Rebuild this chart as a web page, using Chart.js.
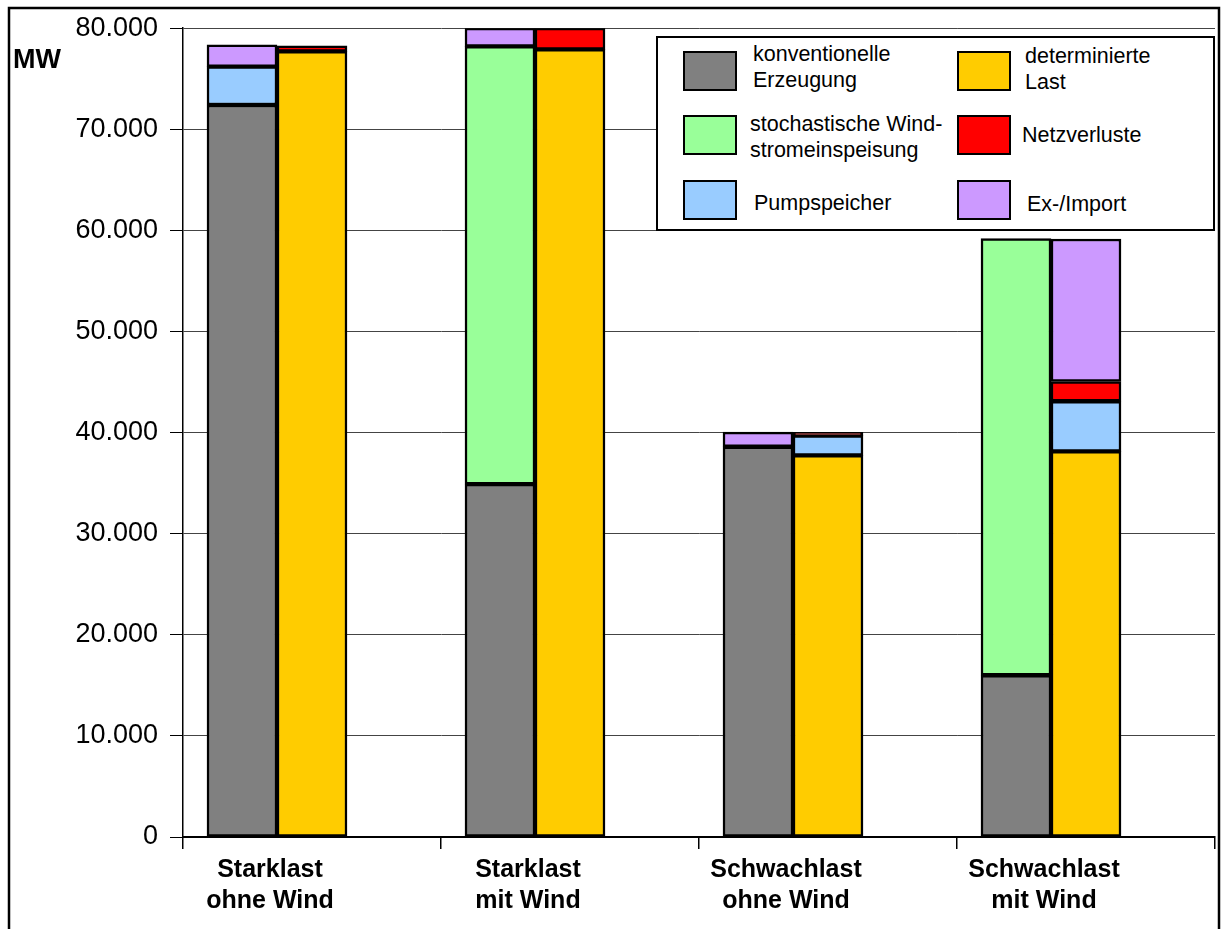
<!DOCTYPE html>
<html>
<head>
<meta charset="utf-8">
<script src="https://cdn.jsdelivr.net/npm/chart.js@4"></script>
<style>
  html, body { margin: 0; padding: 0; background: #fff; }
  #wrap { position: relative; width: 1228px; height: 929px; overflow: hidden; }
  #legend { position: absolute; left: 656px; top: 36px; width: 555px; height: 191px;
            border: 2px solid #000; background: #fff; color: #000;
            font-family: "Liberation Sans", Arial, sans-serif; font-size: 21.5px; }
  .sw { position: absolute; width: 50px; height: 36px; border: 2px solid #000; }
  .txt { position: absolute; line-height: 26px; white-space: pre; }
</style>
</head>
<body>
<div id="wrap">
  <canvas id="chart" width="1228" height="929"></canvas>
  <div id="legend"></div>
</div>
<script>
// categories (two-line labels)
var categories = [["Starklast", "ohne Wind"], ["Starklast", "mit Wind"], ["Schwachlast", "ohne Wind"], ["Schwachlast", "mit Wind"]];

// generation stack (MW)
var konventionell = [72400, 34900, 38600, 16000];
var windGen = [null, 43300, null, 43200];
var pumpGen = [3800, null, null, null];
var importGen = [2150, 1800, 1450, null];

// load stack (MW)
var last = [77700, 77900, 37750, 38150];
var pumpLoad = [null, null, 1950, 4950];
var verluste = [550, 2100, 330, 1950];
var exportLoad = [null, null, null, 14100];

// empty slot that keeps the pair of bars on the left of each category
var padding = [0, 0, 0, 0];

var yTicks = [0, 10000, 20000, 30000, 40000, 50000, 60000, 70000, 80000];

var names = {
  konv: "konventionelle\nErzeugung",
  last: "determinierte\nLast",
  wind: "stochastische Wind-\nstromeinspeisung",
  verl: "Netzverluste",
  pump: "Pumpspeicher",
  imp: "Ex-/Import"
};
var colors = {
  konv: "#808080",
  last: "#FFCC00",
  wind: "#99FF99",
  verl: "#FF0000",
  pump: "#99CCFF",
  imp: "#CC99FF"
};

var FONT = '"Liberation Sans", Arial, sans-serif';

function fmt(v) {
  return String(v).replace(/\B(?=(\d{3})+(?!\d))/g, ".");
}

function bar(label, data, key, stack) {
  return {
    label: label,
    data: data,
    stack: stack,
    backgroundColor: colors[key],
    borderColor: "#000",
    borderWidth: 2.5,
    borderSkipped: false,
    barThickness: 70
  };
}

// legend (html)
var legendLayout = [
  { key: "konv", sx: 25, sy: 13, tx: 95, ty: 3 },
  { key: "last", sx: 299, sy: 13, tx: 367, ty: 5 },
  { key: "wind", sx: 25, sy: 77, tx: 92, ty: 73 },
  { key: "verl", sx: 299, sy: 77, tx: 364, ty: 84 },
  { key: "pump", sx: 25, sy: 142, tx: 96, ty: 152 },
  { key: "imp", sx: 299, sy: 142, tx: 369, ty: 153 }
];
var leg = document.getElementById("legend");
legendLayout.forEach(function (e) {
  var sw = document.createElement("div");
  sw.className = "sw";
  sw.style.left = e.sx + "px";
  sw.style.top = e.sy + "px";
  sw.style.background = colors[e.key];
  leg.appendChild(sw);
  var t = document.createElement("div");
  t.className = "txt";
  t.style.left = e.tx + "px";
  t.style.top = e.ty + "px";
  t.textContent = names[e.key];
  leg.appendChild(t);
});

// frame and unit label
var extras = {
  id: "extras",
  afterDraw: function (chart) {
    var ctx = chart.ctx;
    ctx.save();
    ctx.strokeStyle = "#000";
    ctx.lineWidth = 2.5;
    ctx.strokeRect(9, 8, 1210, 940);
    ctx.fillStyle = "#000";
    ctx.font = "bold 27px " + FONT;
    ctx.textBaseline = "alphabetic";
    ctx.fillText("MW", 13, 68);
    ctx.restore();
  }
};

new Chart(document.getElementById("chart"), {
  type: "bar",
  data: {
    labels: categories,
    datasets: [
      bar("konventionelle Erzeugung", konventionell, "konv", "gen"),
      bar("stochastische Windstromeinspeisung", windGen, "wind", "gen"),
      bar("Pumpspeicher", pumpGen, "pump", "gen"),
      bar("Ex-/Import", importGen, "imp", "gen"),
      bar("determinierte Last", last, "last", "load"),
      bar("Pumpspeicher", pumpLoad, "pump", "load"),
      bar("Netzverluste", verluste, "verl", "load"),
      bar("Ex-/Import", exportLoad, "imp", "load"),
      { label: "", data: padding, stack: "pad", backgroundColor: "rgba(0,0,0,0)", borderWidth: 0, barThickness: 70 }
    ]
  },
  options: {
    responsive: false,
    animation: false,
    layout: { padding: { left: 0, top: 28, right: 13, bottom: 0 } },
    plugins: {
      legend: { display: false },
      tooltip: { enabled: false }
    },
    scales: {
      x: {
        stacked: true,
        offset: true,
        grid: { display: true, offset: true, drawOnChartArea: false, drawTicks: true, tickLength: 12, color: "#000", lineWidth: 1.5 },
        border: { display: true, color: "#000", width: 2 },
        ticks: {
          color: "#000",
          font: { family: FONT, size: 25, weight: "bold", lineHeight: 1.22 },
          labelOffset: -42,
          padding: 6,
          maxRotation: 0,
          autoSkip: false
        },
        afterFit: function (s) { s.height = 92; }
      },
      y: {
        stacked: true,
        min: 0,
        max: 80000,
        afterBuildTicks: function (s) { s.ticks = yTicks.map(function (v) { return { value: v }; }); },
        ticks: {
          color: "#000",
          font: { family: FONT, size: 27 },
          padding: 12,
          callback: function (v) { return fmt(v); }
        },
        grid: { color: "#444", lineWidth: 1, tickLength: 13, tickColor: "#000" },
        border: { display: true, color: "#000", width: 1.5 },
        afterFit: function (s) { s.width = 183; }
      }
    }
  },
  plugins: [extras]
});
</script>
</body>
</html>
